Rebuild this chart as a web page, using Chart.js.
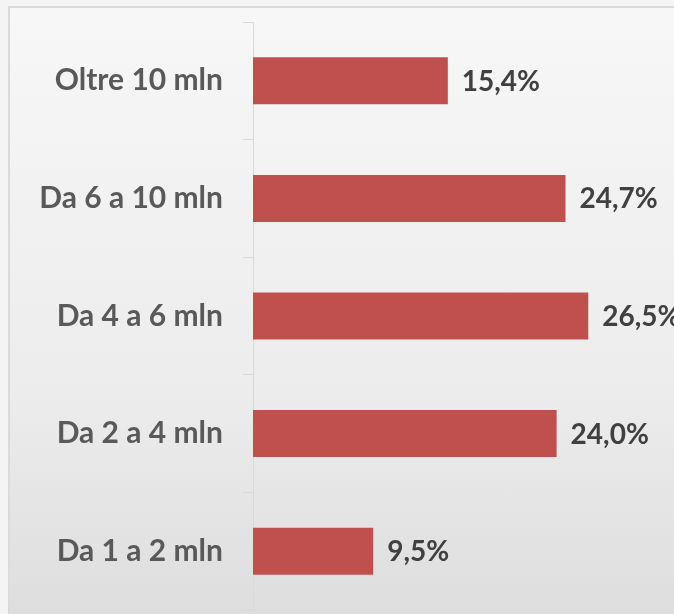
<!DOCTYPE html>
<html>
<head>
<meta charset="utf-8">
<script src="https://cdn.jsdelivr.net/npm/chart.js@4"></script>
<style>
    html, body { margin: 0; padding: 0; overflow: hidden; }
    body { width: 674px; height: 614px; position: relative; background: #f4f4f4; }
    .frame {
        position: absolute; left: 8px; top: 6px; width: 760px; height: 700px;
        border: 2px solid #dadada;
        background: linear-gradient(to bottom, #f7f7f7 0%, #ececec 55%, #dddddd 88%, #dcdcdc 100%);
    }
    .wrap { position: absolute; left: 0; top: 0; width: 674px; height: 614px; }
</style>
</head>
<body>
<div class="frame"></div>
<div class="wrap"><canvas id="chartIncome"></canvas></div>
<script>
const categories = ["Oltre 10 mln", "Da 6 a 10 mln", "Da 4 a 6 mln", "Da 2 a 4 mln", "Da 1 a 2 mln"];
const shares = [15.4, 24.7, 26.5, 24.0, 9.5];

// etichette dei valori a destra delle barre
const valueLabels = {
    id: "valueLabels",
    afterDatasetsDraw(chart) {
        const { ctx } = chart;
        const meta = chart.getDatasetMeta(0);
        ctx.save();
        ctx.font = "bold 28px Lato";
        ctx.fillStyle = "#404040";
        ctx.textAlign = "left";
        ctx.textBaseline = "middle";
        meta.data.forEach((bar, i) => {
            const txt = shares[i].toFixed(1).replace(".", ",") + "%";
            ctx.fillText(txt, bar.x + 14, bar.y + 1);
        });
        ctx.restore();
    }
};

document.addEventListener("DOMContentLoaded", () => {
    const ctx = document.getElementById("chartIncome");
    if (!ctx) return;

    new Chart(ctx, {
        type: "bar",
        data: {
            labels: categories,
            datasets: [{
                data: shares,
                backgroundColor: "#c0504d",
                borderWidth: 0,
                categoryPercentage: 1,
                barPercentage: 0.4
            }]
        },
        options: {
            indexAxis: "y",
            responsive: true,
            maintainAspectRatio: false,
            animation: false,
            layout: { padding: { top: 22, bottom: 4, right: 44, left: 0 } },
            plugins: {
                legend: { display: false },
                tooltip: { enabled: false }
            },
            scales: {
                x: {
                    display: false,
                    min: 0,
                    max: 29.8
                },
                y: {
                    // larghezza fissa, niente padding extra sopra/sotto
                    afterFit: axis => {
                        axis.width = 253;
                        axis.paddingTop = 0;
                        axis.paddingBottom = 0;
                    },
                    border: { display: true, color: "#d9d9d9", width: 1 },
                    grid: {
                        drawOnChartArea: false,
                        drawTicks: true,
                        tickLength: 10,
                        color: "#d9d9d9"
                    },
                    ticks: {
                        padding: 20,
                        color: "#595959",
                        font: { family: "Lato", size: 30, weight: "bold" }
                    }
                }
            }
        },
        plugins: [valueLabels]
    });
});
</script>
</body>
</html>
